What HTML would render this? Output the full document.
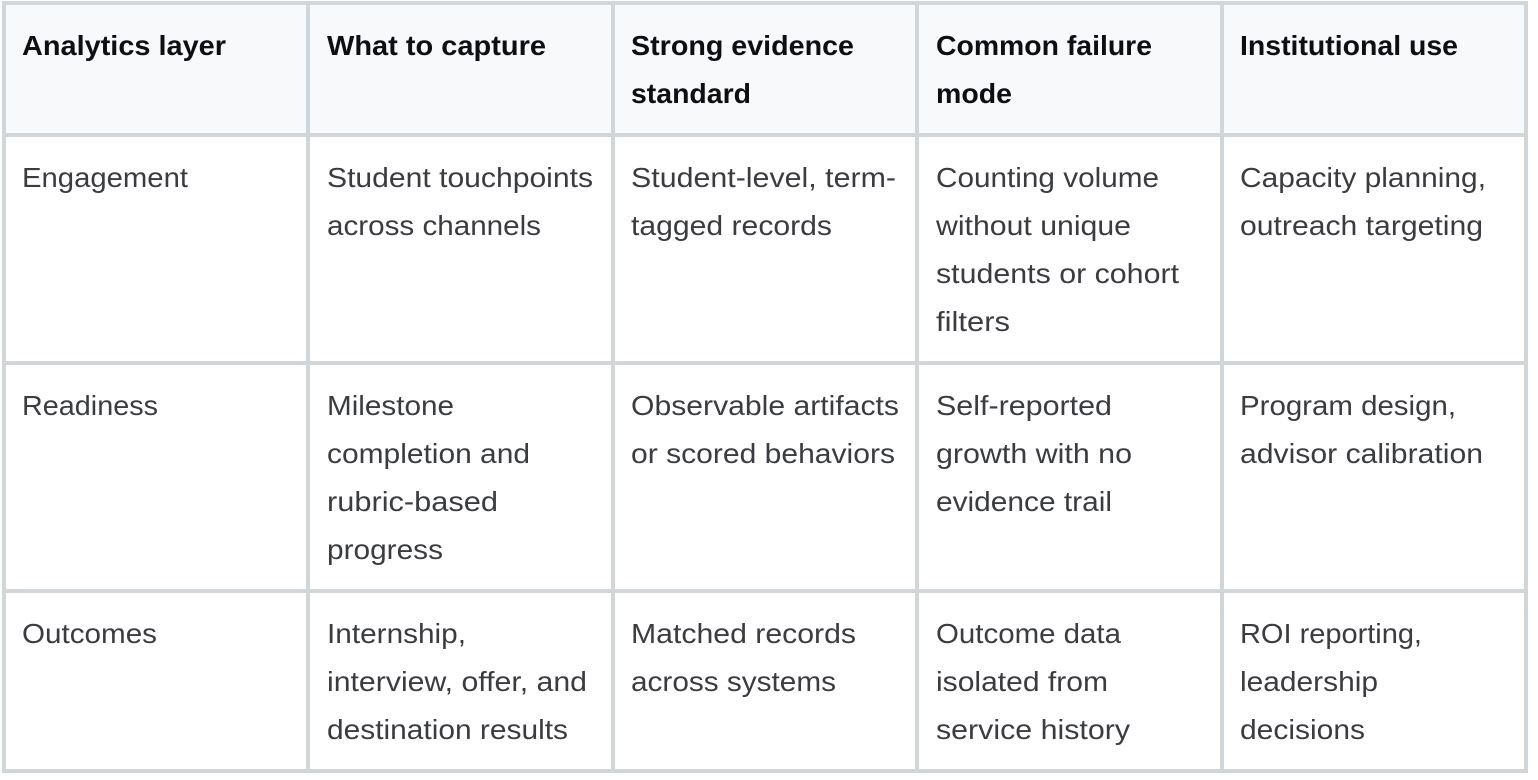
<!DOCTYPE html>
<html><head><meta charset="utf-8"><style>
html,body{margin:0;padding:0;background:#fff;width:1538px;height:780px;overflow:hidden}
svg{display:block}
text{font-family:"Liberation Sans",sans-serif;font-size:28px;fill:#3a3c41}
.h text{font-weight:700;fill:#0e0f13}
</style></head><body>
<svg width="1538" height="780" viewBox="0 0 1538 780" xmlns="http://www.w3.org/2000/svg">
<rect width="1538" height="780" fill="#fff"/>
<rect x="2" y="1" width="1526" height="136" fill="#f8f9fb"/>
<g fill="#d0d6da">
<rect x="2" y="1" width="1526" height="4"/>
<rect x="2" y="133" width="1526" height="4"/>
<rect x="2" y="361" width="1526" height="4"/>
<rect x="2" y="589" width="1526" height="4"/>
<rect x="2" y="769" width="1526" height="4"/>
<rect x="2" y="1" width="4" height="772"/>
<rect x="306" y="1" width="4" height="772"/>
<rect x="611" y="1" width="4" height="772"/>
<rect x="915" y="1" width="4" height="772"/>
<rect x="1220" y="1" width="4" height="772"/>
<rect x="1524" y="1" width="4" height="772"/>
</g>
<g class="h" >
<text x="22" y="55" textLength="204" lengthAdjust="spacingAndGlyphs">Analytics layer</text>
<text x="327" y="55" textLength="219" lengthAdjust="spacingAndGlyphs">What to capture</text>
<text x="631" y="55" textLength="223" lengthAdjust="spacingAndGlyphs">Strong evidence</text>
<text x="631" y="103" textLength="120" lengthAdjust="spacingAndGlyphs">standard</text>
<text x="936" y="55" textLength="216" lengthAdjust="spacingAndGlyphs">Common failure</text>
<text x="936" y="103" textLength="76" lengthAdjust="spacingAndGlyphs">mode</text>
<text x="1240" y="55" textLength="218" lengthAdjust="spacingAndGlyphs">Institutional use</text>
</g>
<g>
<text x="22" y="187" textLength="166" lengthAdjust="spacingAndGlyphs">Engagement</text>
<text x="327" y="187" textLength="266" lengthAdjust="spacingAndGlyphs">Student touchpoints</text>
<text x="327" y="235" textLength="214" lengthAdjust="spacingAndGlyphs">across channels</text>
<text x="631" y="187" textLength="265" lengthAdjust="spacingAndGlyphs">Student-level, term-</text>
<text x="631" y="235" textLength="201" lengthAdjust="spacingAndGlyphs">tagged records</text>
<text x="936" y="187" textLength="223" lengthAdjust="spacingAndGlyphs">Counting volume</text>
<text x="936" y="235" textLength="195" lengthAdjust="spacingAndGlyphs">without unique</text>
<text x="936" y="283" textLength="243" lengthAdjust="spacingAndGlyphs">students or cohort</text>
<text x="936" y="331" textLength="74" lengthAdjust="spacingAndGlyphs">filters</text>
<text x="1240" y="187" textLength="246" lengthAdjust="spacingAndGlyphs">Capacity planning,</text>
<text x="1240" y="235" textLength="243" lengthAdjust="spacingAndGlyphs">outreach targeting</text>

<text x="22" y="415" textLength="136" lengthAdjust="spacingAndGlyphs">Readiness</text>
<text x="327" y="415" textLength="127" lengthAdjust="spacingAndGlyphs">Milestone</text>
<text x="327" y="463" textLength="203" lengthAdjust="spacingAndGlyphs">completion and</text>
<text x="327" y="511" textLength="171" lengthAdjust="spacingAndGlyphs">rubric-based</text>
<text x="327" y="559" textLength="116" lengthAdjust="spacingAndGlyphs">progress</text>
<text x="631" y="415" textLength="268" lengthAdjust="spacingAndGlyphs">Observable artifacts</text>
<text x="631" y="463" textLength="264" lengthAdjust="spacingAndGlyphs">or scored behaviors</text>
<text x="936" y="415" textLength="176" lengthAdjust="spacingAndGlyphs">Self-reported</text>
<text x="936" y="463" textLength="196" lengthAdjust="spacingAndGlyphs">growth with no</text>
<text x="936" y="511" textLength="176" lengthAdjust="spacingAndGlyphs">evidence trail</text>
<text x="1240" y="415" textLength="216" lengthAdjust="spacingAndGlyphs">Program design,</text>
<text x="1240" y="463" textLength="243" lengthAdjust="spacingAndGlyphs">advisor calibration</text>

<text x="22" y="643" textLength="135" lengthAdjust="spacingAndGlyphs">Outcomes</text>
<text x="327" y="643" textLength="139" lengthAdjust="spacingAndGlyphs">Internship,</text>
<text x="327" y="691" textLength="260" lengthAdjust="spacingAndGlyphs">interview, offer, and</text>
<text x="327" y="739" textLength="241" lengthAdjust="spacingAndGlyphs">destination results</text>
<text x="631" y="643" textLength="225" lengthAdjust="spacingAndGlyphs">Matched records</text>
<text x="631" y="691" textLength="205" lengthAdjust="spacingAndGlyphs">across systems</text>
<text x="936" y="643" textLength="185" lengthAdjust="spacingAndGlyphs">Outcome data</text>
<text x="936" y="691" textLength="172" lengthAdjust="spacingAndGlyphs">isolated from</text>
<text x="936" y="739" textLength="194" lengthAdjust="spacingAndGlyphs">service history</text>
<text x="1240" y="643" textLength="182" lengthAdjust="spacingAndGlyphs">ROI reporting,</text>
<text x="1240" y="691" textLength="138" lengthAdjust="spacingAndGlyphs">leadership</text>
<text x="1240" y="739" textLength="125" lengthAdjust="spacingAndGlyphs">decisions</text>
</g>
</svg>
</body></html>
